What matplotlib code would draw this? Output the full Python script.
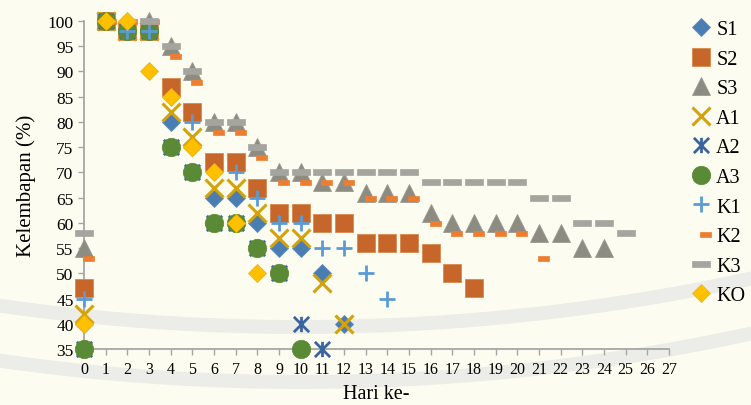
import numpy as np
import matplotlib.pyplot as plt
from matplotlib.path import Path
from matplotlib.lines import Line2D

nan = np.nan

# kelembapan (%) tiap perlakuan per hari
S1 = [40, 100, 98, 98, 80, 75, 65, 65, 60, 55, 55, 50, 40]
S2 = [47, 100, 98, 98, 87, 82, 72, 72, 67, 62, 62, 60, 60, 56, 56, 56, 54, 50, 47]
S3 = [55, nan, nan, 100, 95, 90, 80, 80, 75, 70, 70, 68, 68, 66, 66, 66, 62, 60, 60, 60, 60,
      58, 58, 55, 55]
A1 = [42, 100, 98, 98, 82, 77, 67, 67, 62, 57, 57, 48, 40]
A2 = [35, 100, 98, 98, 75, 70, 60, 60, 55, 50, 40, 35]
A3 = [35, 100, 98, 98, 75, 70, 60, 60, 55, 50, 35]
K1 = [45, 100, 98, 98, 85, 80, 70, 70, 65, 60, 60, 55, 55, 50, 45]
K2 = [53, 100, 100, 100, 93, 88, 78, 78, 73, 68, 68, 68, 68, 65, 65, 65, 60, 58, 58, 58, 58, 53]
K3 = [58, nan, nan, 100, 95, 90, 80, 80, 75, 70, 70, 70, 70, 70, 70, 70, 68, 68, 68, 68, 68,
      65, 65, 60, 60, 58]
KO = [40, 100, 100, 90, 85, 75, 70, 60, 50]

# marker khusus: bintang (x + garis tegak), strip pendek, strip panjang
asterisk = Path([(-1, -1), (1, 1), (-1, 1), (1, -1), (0, -1), (0, 1)],
                [Path.MOVETO, Path.LINETO, Path.MOVETO, Path.LINETO, Path.MOVETO, Path.LINETO])
short_dash = Path([(-0.1, -0.25), (1, -0.25), (1, 0.25), (-0.1, 0.25), (-0.1, -0.25)], closed=True)
long_dash = Path([(-1, -0.28), (1, -0.28), (1, 0.28), (-1, 0.28), (-1, -0.28)], closed=True)

W, H = 751, 406
bg = '#FCFCF0'
fig = plt.figure(figsize=(W / 100, H / 100), dpi=100, facecolor=bg)

# dua lengkung watermark samar di belakang (dihitung dalam piksel, y dari atas)
xs = np.linspace(-10, W + 10, 200)
y_in = -1796 + np.sqrt(2124**2 - (xs - 300)**2)
for off in (0, 55):
    fig.add_artist(Line2D(xs / W, 1 - (y_in + off) / H, transform=fig.transFigure,
                          color='#ECECE8', lw=10, solid_capstyle='butt', zorder=-5))

ax = fig.add_axes([84/W, 1-350/H, (669-84)/W, (350-22)/H])
ax.set_facecolor('none')

series = [
    ('S1', S1, dict(marker='D', ms=9.3, color='#4A7EB3', mec='#5E8CBD', mew=0.6)),
    ('S2', S2, dict(marker='s', ms=13, color='#C6662A', mec='#D9894F', mew=0.6)),
    ('S3', S3, dict(marker='^', ms=13, color='#8C8C82', mec='#9A9A90', mew=0.6)),
    ('A1', A1, dict(marker='x', ms=13, color='#D4A20A', mew=2.2)),
    ('A2', A2, dict(marker=asterisk, ms=11, color='#3A64A0', mfc='none', mew=2.0)),
    ('A3', A3, dict(marker='o', ms=13.3, color='#5A8A35', mec='#5A8A35', mew=0.5)),
    ('K1', K1, dict(marker='+', ms=11, color='#5B9BD5', mew=2.0)),
    ('K2', K2, dict(marker=short_dash, ms=14.4, color='#ED7D31', mew=0.5)),
    ('K3', K3, dict(marker=long_dash, ms=13, color='#A5A5A0', mew=0.5)),
    ('KO', KO, dict(marker='D', ms=9.3, color='#FFC000', mec='#F2B800', mew=0.6)),
]

handles = []
for i, (name, vals, kw) in enumerate(series):
    h, = ax.plot(np.arange(len(vals)), vals, linestyle='none', label=name,
                 zorder=3 + i, clip_on=False, **kw)
    handles.append(h)

ax.set_xlim(0, 27)
ax.set_ylim(35, 100)
ax.set_xticks(range(0, 28))
ax.set_yticks(range(35, 101, 5))

for s in ['top', 'right']:
    ax.spines[s].set_visible(False)
for s in ['left', 'bottom']:
    ax.spines[s].set_color('#A6A6A6')
    ax.spines[s].set_linewidth(1.3)

ax.tick_params(axis='both', colors='#A6A6A6', labelcolor='black', direction='out', length=4, width=1)
ax.tick_params(axis='x', pad=5)
for lab in ax.get_yticklabels():
    lab.set_fontfamily('Liberation Serif')
    lab.set_fontsize(12.5)
for lab in ax.get_xticklabels():
    lab.set_fontfamily('Liberation Serif')
    lab.set_fontsize(11.5)

ax.set_ylabel('Kelembapan (%)', fontfamily='Liberation Serif', fontsize=15, labelpad=8)
ax.set_xlabel('Hari ke-', fontfamily='Liberation Serif', fontsize=14.5, labelpad=5)

fig.legend(handles=handles, loc='upper left', bbox_to_anchor=(690/W, 1-21/H),
           frameon=False, prop={'family': 'Liberation Serif', 'size': 14.5},
           handlelength=1.1, handletextpad=0.2, labelspacing=0.52, borderpad=0,
           borderaxespad=0, numpoints=1)

fig.savefig('out.png', dpi=100, facecolor=bg)
